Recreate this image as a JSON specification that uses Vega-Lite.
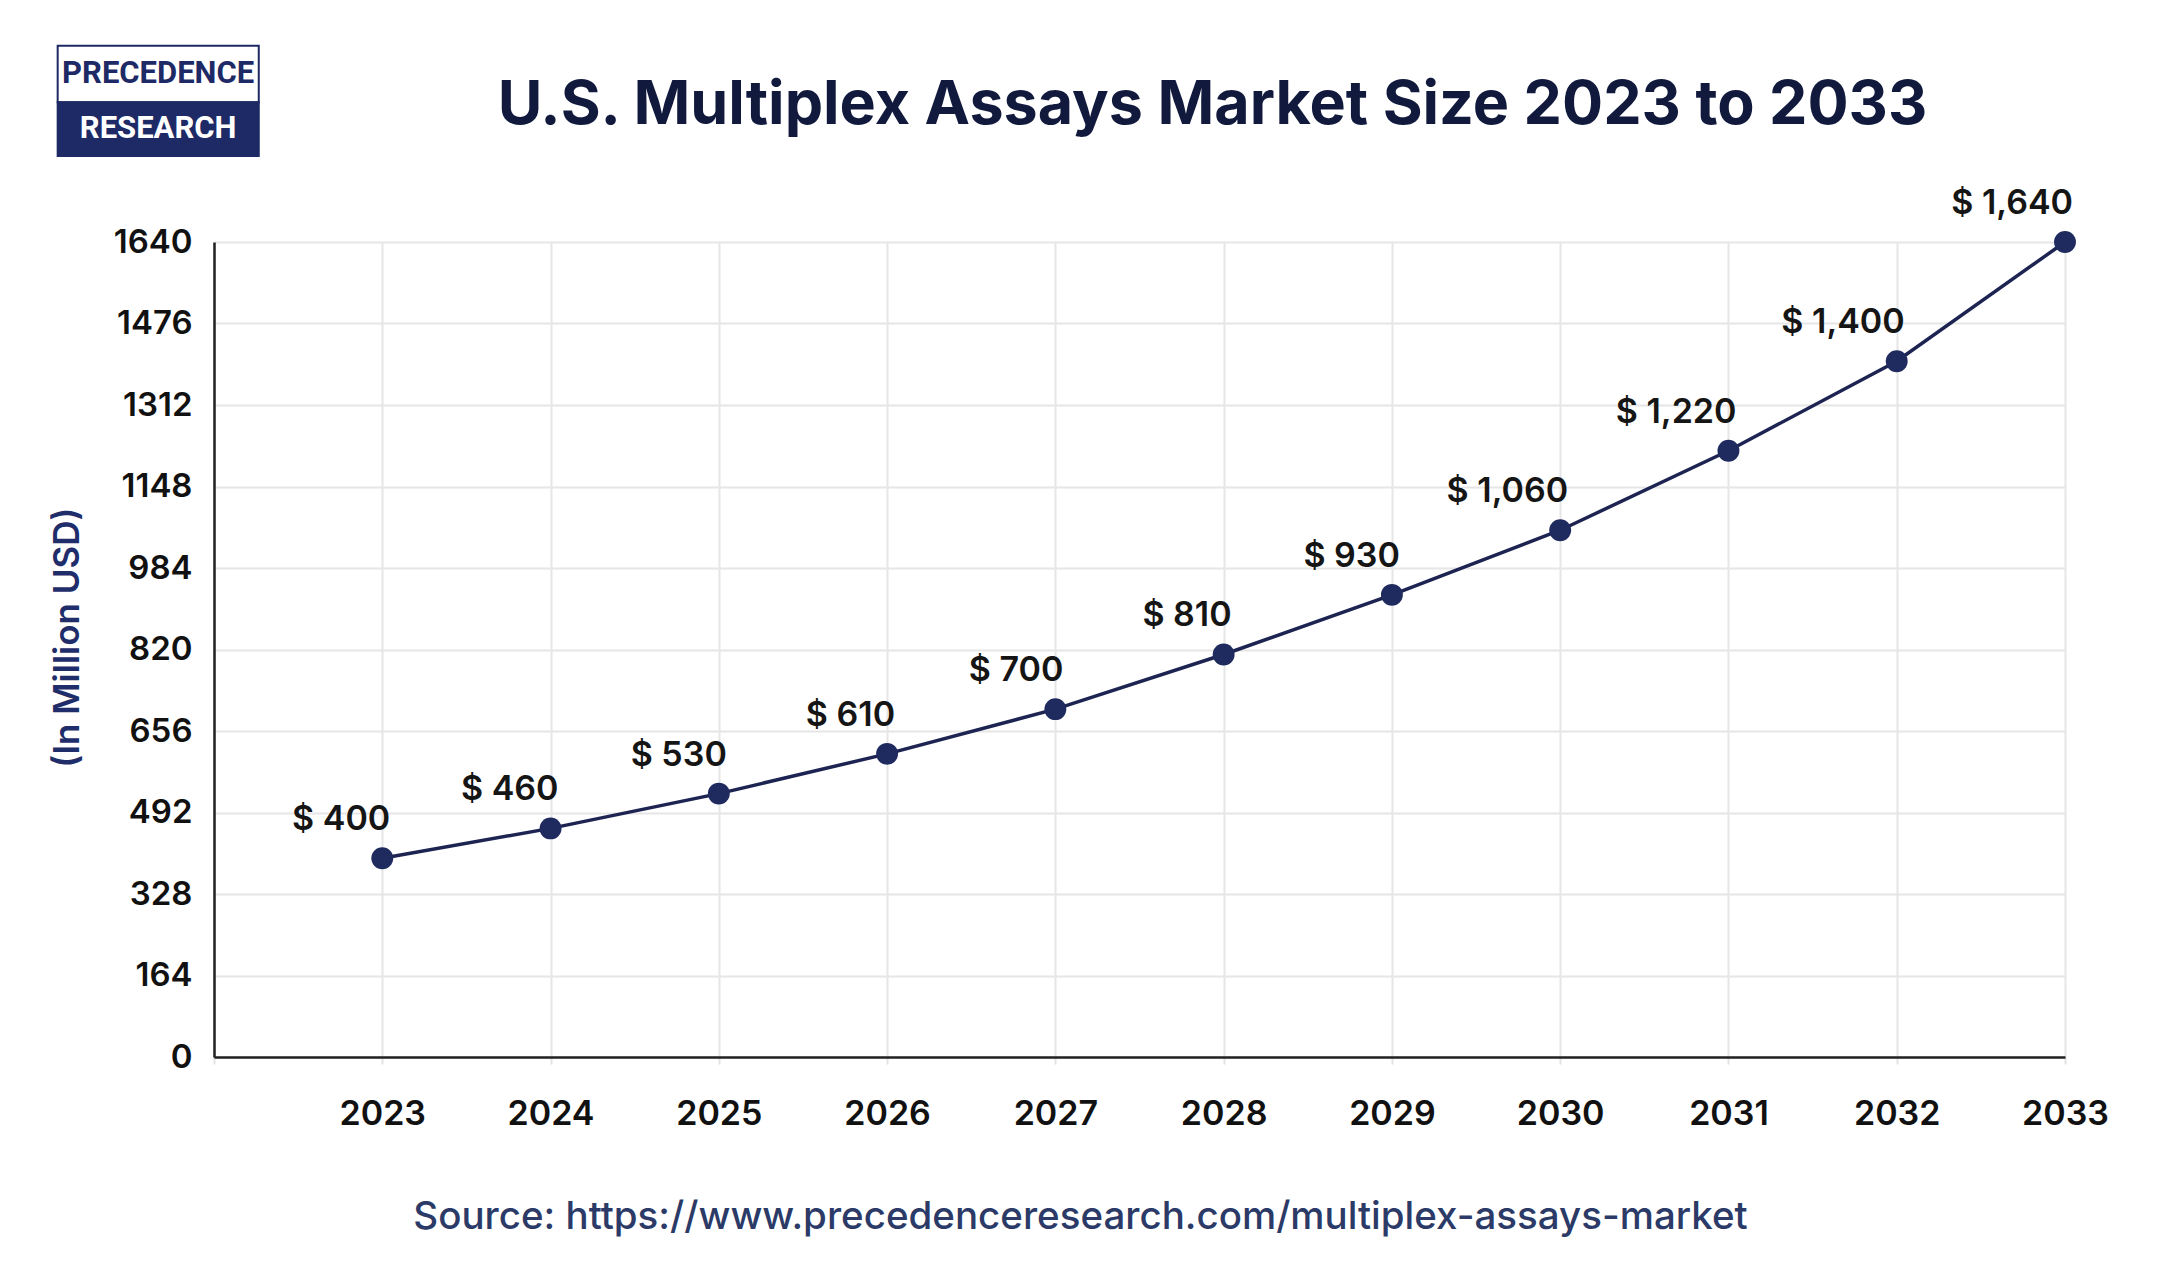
{
  "$schema": "https://vega.github.io/schema/vega-lite/v6.json",
  "width": 1851,
  "height": 815,
  "autosize": {"type": "none"},
  "padding": {"left": 214, "top": 242, "right": 107, "bottom": 229},
  "background": "#ffffff",
  "title": {
    "text": "U.S. Multiplex Assays Market Size 2023 to 2033",
    "font": "Inter",
    "fontSize": 61,
    "fontWeight": 700,
    "color": "#111a3d",
    "anchor": "middle",
    "frame": "group",
    "baseline": "alphabetic",
    "dx": 73,
    "offset": -140
  },
  "data": {
    "values": [
      {"year": 2023, "value": 400},
      {"year": 2024, "value": 460},
      {"year": 2025, "value": 530},
      {"year": 2026, "value": 610},
      {"year": 2027, "value": 700},
      {"year": 2028, "value": 810},
      {"year": 2029, "value": 930},
      {"year": 2030, "value": 1060},
      {"year": 2031, "value": 1220},
      {"year": 2032, "value": 1400},
      {"year": 2033, "value": 1640}
    ]
  },
  "config": {
    "view": {"stroke": null},
    "locale": {
      "number": {"decimal": ".", "thousands": ",", "grouping": [3], "currency": ["$ ", ""]}
    }
  },
  "layer": [
    {
      "mark": {"type": "line", "color": "#1d2452", "strokeWidth": 3.5},
      "encoding": {
        "x": {
          "field": "year",
          "type": "quantitative",
          "scale": {"domain": [2022, 2033], "nice": false, "zero": false},
          "axis": {
            "values": [2022, 2023, 2024, 2025, 2026, 2027, 2028, 2029, 2030, 2031, 2032, 2033],
            "format": "d",
            "labelExpr": "datum.value == 2022 ? '' : datum.label",
            "labelFont": "Inter",
            "labelFontSize": 34,
            "labelFontWeight": 600,
            "labelColor": "#111111",
            "labelBaseline": "top",
            "labelPadding": 33,
            "labelFlush": false,
            "ticks": true,
            "tickSize": 7,
            "tickColor": "#e2e2e2",
            "tickWidth": 2,
            "domain": true,
            "domainColor": "#222222",
            "domainWidth": 2.5,
            "grid": true,
            "gridColor": "#e6e6e6",
            "gridWidth": 2,
            "title": "Source: https://www.precedenceresearch.com/multiplex-assays-market",
            "titleFont": "Inter",
            "titleFontSize": 38.5,
            "titleFontWeight": 500,
            "titleColor": "#2b3a67",
            "titleX": 866,
            "titlePadding": 67
          }
        },
        "y": {
          "field": "value",
          "type": "quantitative",
          "scale": {"domain": [0, 1640], "nice": false},
          "axis": {
            "values": [0, 164, 328, 492, 656, 820, 984, 1148, 1312, 1476, 1640],
            "format": "d",
            "labelFont": "Inter",
            "labelFontSize": 33,
            "labelFontWeight": 600,
            "labelColor": "#111111",
            "labelPadding": 22,
            "ticks": false,
            "domain": true,
            "domainColor": "#222222",
            "domainWidth": 2.5,
            "grid": true,
            "gridColor": "#e6e6e6",
            "gridWidth": 2,
            "title": "(In Million USD)",
            "titleFont": "Inter",
            "titleFontSize": 35,
            "titleFontWeight": 600,
            "titleColor": "#1f2d6b",
            "titleY": 395,
            "titlePadding": 28
          }
        }
      }
    },
    {
      "mark": {"type": "point", "filled": true, "size": 480, "color": "#1f2a5e", "opacity": 1},
      "encoding": {
        "x": {"field": "year", "type": "quantitative"},
        "y": {"field": "value", "type": "quantitative"}
      }
    },
    {
      "mark": {
        "type": "text",
        "font": "Inter",
        "fontSize": 34,
        "fontWeight": 600,
        "letterSpacing": 2,
        "color": "#151515",
        "align": "right",
        "baseline": "alphabetic",
        "dx": 8,
        "dy": -28
      },
      "encoding": {
        "x": {"field": "year", "type": "quantitative"},
        "y": {"field": "value", "type": "quantitative"},
        "text": {"field": "value", "type": "quantitative", "format": "$,"}
      }
    },
    {
      "data": {"values": [{"part": "top"}]},
      "mark": {"type": "rect", "fill": "#ffffff", "stroke": "#1e2a66", "strokeWidth": 2},
      "encoding": {
        "x": {"datum": 2021.071, "type": "quantitative"},
        "x2": {"datum": 2022.266},
        "y": {"datum": 2035, "type": "quantitative"},
        "y2": {"datum": 1921}
      }
    },
    {
      "data": {"values": [{"part": "bottom"}]},
      "mark": {"type": "rect", "fill": "#1e2a66", "stroke": "#1e2a66", "strokeWidth": 2},
      "encoding": {
        "x": {"datum": 2021.071, "type": "quantitative"},
        "x2": {"datum": 2022.266},
        "y": {"datum": 1921, "type": "quantitative"},
        "y2": {"datum": 1813}
      }
    },
    {
      "data": {"values": [{"word": "PRECEDENCE"}]},
      "mark": {"type": "text", "font": "Roboto", "fontSize": 31, "fontWeight": 700, "color": "#1e2a66", "align": "center", "baseline": "middle", "letterSpacing": 0},
      "encoding": {
        "x": {"datum": 2021.668, "type": "quantitative"},
        "y": {"datum": 1978, "type": "quantitative"},
        "text": {"field": "word"}
      }
    },
    {
      "data": {"values": [{"word": "RESEARCH"}]},
      "mark": {"type": "text", "font": "Roboto", "fontSize": 31, "fontWeight": 700, "color": "#ffffff", "align": "center", "baseline": "middle", "letterSpacing": 5},
      "encoding": {
        "x": {"datum": 2021.668, "type": "quantitative"},
        "y": {"datum": 1867, "type": "quantitative"},
        "text": {"field": "word"}
      }
    }
  ]
}
